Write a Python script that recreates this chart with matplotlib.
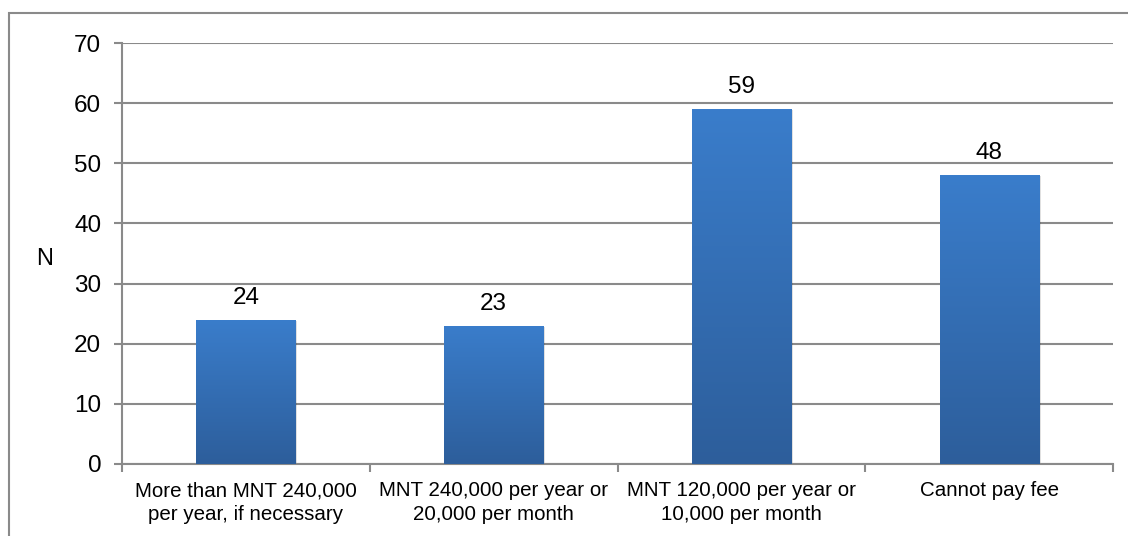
import matplotlib
matplotlib.use("Agg")
import matplotlib.pyplot as plt
import numpy as np
from matplotlib.colors import LinearSegmentedColormap
from matplotlib.patches import Rectangle

categories = ["More than MNT 240,000\nper year, if necessary",
              "MNT 240,000 per year or\n20,000 per month",
              "MNT 120,000 per year or\n10,000 per month",
              "Cannot pay fee"]
values = [24, 23, 59, 48]
y_ticks = [0, 10, 20, 30, 40, 50, 60, 70]

plt.rcParams['font.family'] = ['Liberation Sans', 'DejaVu Sans']

fig = plt.figure(figsize=(11.28, 5.36), dpi=100)
fig.patches.append(Rectangle((9/1128, -0.1), 1.2, 1 - 13/536 + 0.1,
                             transform=fig.transFigure, fill=False,
                             edgecolor='#8a8a8a', linewidth=1.5, zorder=0))
ax = fig.add_axes([122/1128, 72/536, (1113-122)/1128, (464-43)/536])

x = np.arange(len(categories))
width = 0.4
cmap = LinearSegmentedColormap.from_list('g', ['#2D5E9B', '#3A7DCB'])
bars = ax.bar(x, values, width=width, color='none', edgecolor='none', zorder=3)
grad = np.linspace(0, 1, 256).reshape(-1, 1)
for b in bars:
    x0, w, h = b.get_x(), b.get_width(), b.get_height()
    # soft shadow
    ax.add_patch(Rectangle((x0 + 0.008, 0), w, h - 0.15, facecolor='#000000',
                           alpha=0.12, edgecolor='none', zorder=2))
    im = ax.imshow(grad, extent=(x0, x0 + w, 0, h), origin='lower', cmap=cmap,
                   aspect='auto', zorder=3)
    im.set_clip_path(b)

for xi, v in zip(x, values):
    ax.annotate(str(v), (xi, v), xytext=(0, 11.5), textcoords='offset points',
                ha='center', va='baseline', fontsize=17.5, color='#000000')

ax.set_xlim(-0.5, len(categories) - 0.5)
ax.set_ylim(0, 70)
ax.set_yticks(y_ticks)
ax.tick_params(axis='y', labelsize=17.5, length=6, width=1.5, color='#8a8a8a', pad=9)
ax.set_xticks(x)
ax.set_xticklabels(categories, fontsize=14.8, linespacing=1.3)
ax.set_xticks(np.arange(len(categories) + 1) - 0.5, minor=True)
ax.tick_params(axis='x', which='major', length=0, pad=12.5)
ax.tick_params(axis='x', which='minor', length=6, width=1.5, color='#8a8a8a')
ax.yaxis.grid(True, color='#8a8a8a', linewidth=1.5, zorder=0)
ax.set_axisbelow(True)
for s in ['top', 'right']:
    ax.spines[s].set_visible(False)
for s in ['left', 'bottom']:
    ax.spines[s].set_color('#8a8a8a')
    ax.spines[s].set_linewidth(1.5)
ax.set_ylabel('N', fontsize=17, rotation=0, va='center', ha='center')
ax.yaxis.set_label_coords(-(122 - 45) / 991, (464 - 259) / 421)

fig.savefig('out.png', dpi=100)
